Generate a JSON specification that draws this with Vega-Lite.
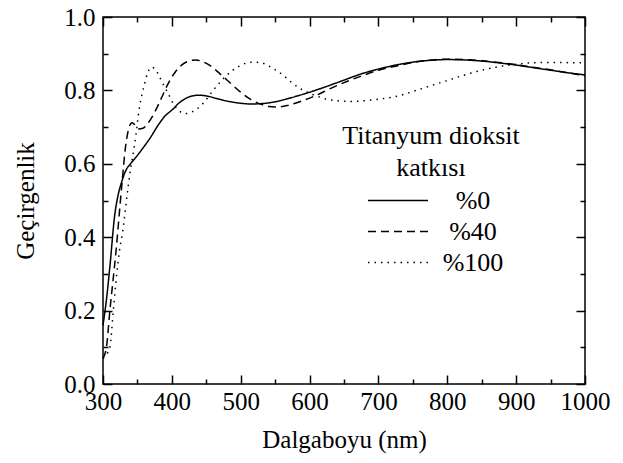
{
  "$schema": "https://vega.github.io/schema/vega-lite/v6.json",
  "width": 482,
  "height": 367,
  "autosize": "none",
  "padding": {"left": 103, "top": 17, "right": 38, "bottom": 79},
  "background": "white",
  "config": {
    "view": {"stroke": "black", "strokeWidth": 1.5},
    "font": "Liberation Serif",
    "axis": {
      "domain": false,
      "grid": false,
      "labelFont": "Liberation Serif",
      "titleFont": "Liberation Serif",
      "labelFontSize": 25,
      "titleFontSize": 25,
      "titleFontWeight": "normal",
      "labelColor": "black",
      "titleColor": "black",
      "tickColor": "black",
      "tickWidth": 1.5,
      "labelOverlap": false,
      "labelFlush": false
    }
  },
  "data": {
    "values": [
      {"s": "%0", "nm": 300, "t": 0.16}, {"s": "%0", "nm": 305, "t": 0.23}, {"s": "%0", "nm": 310, "t": 0.32},
      {"s": "%0", "nm": 317, "t": 0.46}, {"s": "%0", "nm": 322, "t": 0.515}, {"s": "%0", "nm": 327, "t": 0.55},
      {"s": "%0", "nm": 334, "t": 0.585}, {"s": "%0", "nm": 340, "t": 0.6}, {"s": "%0", "nm": 350, "t": 0.623},
      {"s": "%0", "nm": 360, "t": 0.648}, {"s": "%0", "nm": 368, "t": 0.669}, {"s": "%0", "nm": 380, "t": 0.705},
      {"s": "%0", "nm": 390, "t": 0.73}, {"s": "%0", "nm": 401, "t": 0.748}, {"s": "%0", "nm": 410, "t": 0.765},
      {"s": "%0", "nm": 420, "t": 0.778}, {"s": "%0", "nm": 430, "t": 0.785}, {"s": "%0", "nm": 440, "t": 0.787},
      {"s": "%0", "nm": 450, "t": 0.785}, {"s": "%0", "nm": 465, "t": 0.778}, {"s": "%0", "nm": 480, "t": 0.771},
      {"s": "%0", "nm": 500, "t": 0.765}, {"s": "%0", "nm": 515, "t": 0.763}, {"s": "%0", "nm": 530, "t": 0.764},
      {"s": "%0", "nm": 550, "t": 0.769}, {"s": "%0", "nm": 575, "t": 0.781}, {"s": "%0", "nm": 600, "t": 0.795},
      {"s": "%0", "nm": 625, "t": 0.811}, {"s": "%0", "nm": 650, "t": 0.828}, {"s": "%0", "nm": 675, "t": 0.845},
      {"s": "%0", "nm": 700, "t": 0.858}, {"s": "%0", "nm": 725, "t": 0.869}, {"s": "%0", "nm": 750, "t": 0.877},
      {"s": "%0", "nm": 775, "t": 0.882}, {"s": "%0", "nm": 800, "t": 0.884}, {"s": "%0", "nm": 825, "t": 0.883},
      {"s": "%0", "nm": 850, "t": 0.88}, {"s": "%0", "nm": 875, "t": 0.875}, {"s": "%0", "nm": 900, "t": 0.869},
      {"s": "%0", "nm": 925, "t": 0.862}, {"s": "%0", "nm": 950, "t": 0.855}, {"s": "%0", "nm": 975, "t": 0.848},
      {"s": "%0", "nm": 1000, "t": 0.842},

      {"s": "%40", "nm": 300, "t": 0.07}, {"s": "%40", "nm": 305, "t": 0.1}, {"s": "%40", "nm": 310, "t": 0.2},
      {"s": "%40", "nm": 319, "t": 0.364}, {"s": "%40", "nm": 327, "t": 0.535}, {"s": "%40", "nm": 333, "t": 0.65},
      {"s": "%40", "nm": 338, "t": 0.7}, {"s": "%40", "nm": 342, "t": 0.712}, {"s": "%40", "nm": 347, "t": 0.705},
      {"s": "%40", "nm": 352, "t": 0.695}, {"s": "%40", "nm": 358, "t": 0.697}, {"s": "%40", "nm": 365, "t": 0.71},
      {"s": "%40", "nm": 375, "t": 0.74}, {"s": "%40", "nm": 385, "t": 0.78}, {"s": "%40", "nm": 395, "t": 0.82},
      {"s": "%40", "nm": 405, "t": 0.85}, {"s": "%40", "nm": 415, "t": 0.87}, {"s": "%40", "nm": 425, "t": 0.88},
      {"s": "%40", "nm": 435, "t": 0.883}, {"s": "%40", "nm": 445, "t": 0.878}, {"s": "%40", "nm": 455, "t": 0.868},
      {"s": "%40", "nm": 470, "t": 0.845}, {"s": "%40", "nm": 485, "t": 0.82}, {"s": "%40", "nm": 500, "t": 0.795},
      {"s": "%40", "nm": 515, "t": 0.775}, {"s": "%40", "nm": 530, "t": 0.762}, {"s": "%40", "nm": 541, "t": 0.756},
      {"s": "%40", "nm": 555, "t": 0.755}, {"s": "%40", "nm": 570, "t": 0.76}, {"s": "%40", "nm": 590, "t": 0.772},
      {"s": "%40", "nm": 609, "t": 0.786}, {"s": "%40", "nm": 630, "t": 0.805}, {"s": "%40", "nm": 655, "t": 0.825},
      {"s": "%40", "nm": 681, "t": 0.843}, {"s": "%40", "nm": 700, "t": 0.855}, {"s": "%40", "nm": 725, "t": 0.866},
      {"s": "%40", "nm": 753, "t": 0.877}, {"s": "%40", "nm": 780, "t": 0.883}, {"s": "%40", "nm": 801, "t": 0.885},
      {"s": "%40", "nm": 825, "t": 0.884}, {"s": "%40", "nm": 850, "t": 0.881}, {"s": "%40", "nm": 875, "t": 0.876},
      {"s": "%40", "nm": 900, "t": 0.87}, {"s": "%40", "nm": 925, "t": 0.863}, {"s": "%40", "nm": 950, "t": 0.856},
      {"s": "%40", "nm": 975, "t": 0.848}, {"s": "%40", "nm": 1000, "t": 0.84},

      {"s": "%100", "nm": 300, "t": 0.07}, {"s": "%100", "nm": 305, "t": 0.08}, {"s": "%100", "nm": 310, "t": 0.1},
      {"s": "%100", "nm": 315, "t": 0.2}, {"s": "%100", "nm": 320, "t": 0.3}, {"s": "%100", "nm": 324, "t": 0.364},
      {"s": "%100", "nm": 329, "t": 0.42}, {"s": "%100", "nm": 334, "t": 0.5}, {"s": "%100", "nm": 339, "t": 0.572},
      {"s": "%100", "nm": 346, "t": 0.654}, {"s": "%100", "nm": 353, "t": 0.754}, {"s": "%100", "nm": 360, "t": 0.815},
      {"s": "%100", "nm": 365, "t": 0.848}, {"s": "%100", "nm": 370, "t": 0.863}, {"s": "%100", "nm": 375, "t": 0.86},
      {"s": "%100", "nm": 380, "t": 0.845}, {"s": "%100", "nm": 387, "t": 0.818}, {"s": "%100", "nm": 395, "t": 0.79},
      {"s": "%100", "nm": 402, "t": 0.764}, {"s": "%100", "nm": 410, "t": 0.745}, {"s": "%100", "nm": 420, "t": 0.737},
      {"s": "%100", "nm": 430, "t": 0.742}, {"s": "%100", "nm": 445, "t": 0.764}, {"s": "%100", "nm": 460, "t": 0.8},
      {"s": "%100", "nm": 479, "t": 0.84}, {"s": "%100", "nm": 499, "t": 0.867}, {"s": "%100", "nm": 515, "t": 0.877},
      {"s": "%100", "nm": 530, "t": 0.875}, {"s": "%100", "nm": 545, "t": 0.862}, {"s": "%100", "nm": 562, "t": 0.841},
      {"s": "%100", "nm": 575, "t": 0.82}, {"s": "%100", "nm": 591, "t": 0.8}, {"s": "%100", "nm": 610, "t": 0.785},
      {"s": "%100", "nm": 625, "t": 0.776}, {"s": "%100", "nm": 644, "t": 0.771}, {"s": "%100", "nm": 660, "t": 0.77},
      {"s": "%100", "nm": 673, "t": 0.771}, {"s": "%100", "nm": 700, "t": 0.776}, {"s": "%100", "nm": 731, "t": 0.786},
      {"s": "%100", "nm": 755, "t": 0.8}, {"s": "%100", "nm": 775, "t": 0.812}, {"s": "%100", "nm": 800, "t": 0.827},
      {"s": "%100", "nm": 825, "t": 0.842}, {"s": "%100", "nm": 850, "t": 0.855}, {"s": "%100", "nm": 872, "t": 0.864},
      {"s": "%100", "nm": 900, "t": 0.871}, {"s": "%100", "nm": 920, "t": 0.875}, {"s": "%100", "nm": 950, "t": 0.876},
      {"s": "%100", "nm": 1000, "t": 0.875}
    ]
  },
  "layer": [
    {
      "mark": {"type": "line", "color": "black", "strokeWidth": 1.5, "interpolate": "monotone"},
      "encoding": {
        "x": {
          "field": "nm", "type": "quantitative",
          "scale": {"domain": [300, 1000], "nice": false, "zero": false},
          "axis": {
            "orient": "bottom",
            "title": "Dalgaboyu (nm)",
            "values": [300, 350, 400, 450, 500, 550, 600, 650, 700, 750, 800, 850, 900, 950, 1000],
            "format": "d",
            "labelExpr": "datum.value % 100 === 0 ? datum.label : ''",
            "tickSize": {"condition": {"test": "datum.value % 100 === 0", "value": -9}, "value": -5},
            "labelPadding": 14,
            "titlePadding": 9
          }
        },
        "y": {
          "field": "t", "type": "quantitative",
          "scale": {"domain": [0, 1], "nice": false},
          "axis": {
            "orient": "left",
            "title": "Geçirgenlik",
            "values": [0, 0.1, 0.2, 0.3, 0.4, 0.5, 0.6, 0.7, 0.8, 0.9, 1.0],
            "format": ".1f",
            "labelExpr": "round(datum.value * 10) % 2 === 0 ? datum.label : ''",
            "tickSize": {"condition": {"test": "round(datum.value * 10) % 2 === 0", "value": -9}, "value": -5},
            "labelPadding": 17,
            "titlePadding": 25
          }
        },
        "strokeDash": {
          "field": "s", "type": "nominal",
          "scale": {"domain": ["%0", "%40", "%100"], "range": [[1, 0], [8, 5], [1.5, 5]]},
          "legend": {
            "orient": "none",
            "legendX": 239,
            "legendY": 106,
            "title": ["Titanyum dioksit", "katkısı"],
            "titleFont": "Liberation Serif",
            "titleFontSize": 26,
            "titleFontWeight": "normal",
            "titleColor": "black",
            "titleAnchor": "middle",
            "titleAlign": "center",
            "titleLineHeight": 32,
            "titlePadding": 4,
            "labelFont": "Liberation Serif",
            "labelFontSize": 26,
            "labelColor": "black",
            "labelAlign": "center",
            "labelOffset": 44,
            "symbolType": "stroke",
            "symbolSize": 3600,
            "symbolStrokeWidth": 1.5,
            "symbolStrokeColor": "black",
            "symbolOffset": 8,
            "clipHeight": 31,
            "rowPadding": 0
          }
        }
      }
    },
    {
      "mark": {"type": "line", "opacity": 0},
      "encoding": {
        "x": {
          "field": "nm", "type": "quantitative",
          "axis": {
            "orient": "top",
            "title": null,
            "values": [300, 350, 400, 450, 500, 550, 600, 650, 700, 750, 800, 850, 900, 950, 1000],
            "labels": false,
            "tickSize": {"condition": {"test": "datum.value % 100 === 0", "value": -9}, "value": -5}
          }
        },
        "y": {
          "field": "t", "type": "quantitative",
          "axis": {
            "orient": "right",
            "title": null,
            "values": [0, 0.1, 0.2, 0.3, 0.4, 0.5, 0.6, 0.7, 0.8, 0.9, 1.0],
            "labels": false,
            "tickSize": {"condition": {"test": "round(datum.value * 10) % 2 === 0", "value": -9}, "value": -5}
          }
        },
        "detail": {"field": "s", "type": "nominal"}
      }
    }
  ],
  "resolve": {"axis": {"x": "independent", "y": "independent"}}
}
